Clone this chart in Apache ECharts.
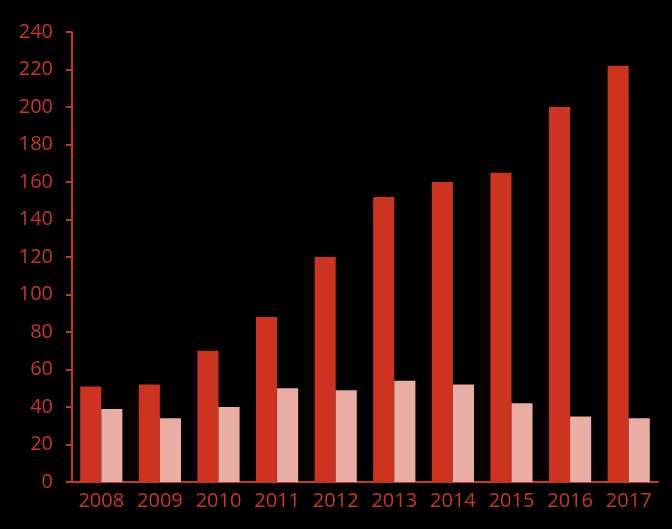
<!DOCTYPE html>
<html><head><meta charset="utf-8">
<script src="https://cdn.jsdelivr.net/npm/echarts@6/dist/echarts.min.js"></script>
<style>html,body{margin:0;padding:0;background:#000;}#c{width:672px;height:529px;}</style>
</head><body><div id="c"></div>
<script>
var categories = ['2008','2009','2010','2011','2012','2013','2014','2015','2016','2017'];
var seriesA = [51, 52, 70, 88, 120, 152, 160, 165, 200, 222];
var seriesB = [39, 34, 40, 50, 49, 54, 52, 42, 35, 34];
var yTicks = {min: 0, max: 240, interval: 20};

var labelColor = '#C8372A';
var axisColor = '#C8372A';
var chart = echarts.init(document.getElementById('c'));
chart.setOption({
  backgroundColor: '#000',
  animation: false,
  grid: {left: 72, right: 14, top: 32, bottom: 47, containLabel: false},
  xAxis: {
    type: 'category', data: categories,
    axisLine: {lineStyle: {color: axisColor, width: 2}},
    axisTick: {show: false},
    axisLabel: {color: labelColor, fontSize: 20, fontFamily: 'Open Sans', margin: 9, interval: 0, hideOverlap: false}
  },
  yAxis: {
    type: 'value', min: yTicks.min, max: yTicks.max, interval: yTicks.interval,
    axisLine: {show: true, lineStyle: {color: axisColor, width: 2}},
    axisTick: {show: true, inside: false, length: 6, lineStyle: {color: axisColor, width: 2}},
    splitLine: {show: false},
    axisLabel: {color: labelColor, fontSize: 20, fontFamily: 'Open Sans', margin: 19}
  },
  series: [
    {type: 'bar', data: seriesA, itemStyle: {color: '#CC3320'}, barGap: '0%', barCategoryGap: '28%'},
    {type: 'bar', data: seriesB, itemStyle: {color: '#E9ADA4'}}
  ]
});
</script></body></html>
